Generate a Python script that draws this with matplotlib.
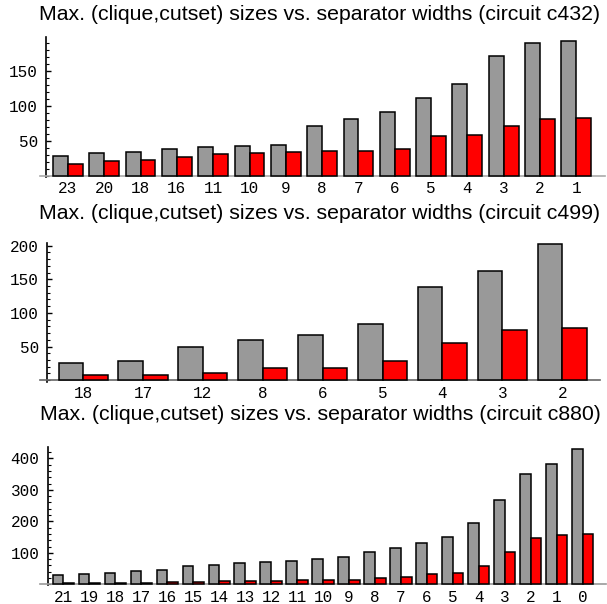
import matplotlib
matplotlib.use("Agg")
import matplotlib.pyplot as plt
from matplotlib.ticker import MultipleLocator
import numpy as np

# circuit c432
widths_c432 = [23, 20, 18, 16, 11, 10, 9, 8, 7, 6, 5, 4, 3, 2, 1]
clique_c432 = [28, 32, 34, 38, 41, 43, 44, 71, 81, 91, 111, 132, 172, 191, 193]
cutset_c432 = [17, 21, 22, 27, 31, 32, 34, 35, 36, 38, 57, 59, 71, 81, 83]

# circuit c499
widths_c499 = [18, 17, 12, 8, 6, 5, 4, 3, 2]
clique_c499 = [25, 29, 49, 59, 67, 83, 139, 163, 203]
cutset_c499 = [8, 8, 11, 18, 18, 28, 55, 74, 77]

# circuit c880
widths_c880 = [21, 19, 18, 17, 16, 15, 14, 13, 12, 11, 10, 9, 8, 7, 6, 5, 4, 3, 2, 1, 0]
clique_c880 = [29, 33, 35, 43, 45, 58, 62, 67, 71, 75, 82, 88, 102, 117, 130, 151, 196, 268, 350, 381, 429]
cutset_c880 = [4, 4, 4, 4, 6, 9, 10, 11, 11, 13, 13, 13, 20, 24, 32, 36, 59, 103, 147, 157, 159]

circuits = ["c432", "c499", "c880"]

W, H = 607, 604
fig = plt.figure(figsize=(W / 100, H / 100), dpi=100)

# pixel boxes: left, right, top, bottom, ylim, xlim, major, minor, title y
panels = [
    (40, 605, 37, 177, (-2, 199), (-0.77, 14.79), 50, 10, 15, "#aaaaaa", 0.41),
    (40, 600, 243, 381.5, (-2, 204), (-0.72, 8.63), 50, 10, 214, "#666666", 0.41),
    (40, 606, 446.7, 585, (-2, 437), (-0.9, 20.9), 100, 20, 414, "#999999", 0.41),
]
data = [
    (widths_c432, clique_c432, cutset_c432),
    (widths_c499, clique_c499, cutset_c499),
    (widths_c880, clique_c880, cutset_c880),
]

mono = "Liberation Mono"
sans = "Liberation Sans"

for (l, r, t, b, ylim, xlim, major, minor, ty, basecol, bw), (w, cl, cu), name in zip(panels, data, circuits):
    ax = fig.add_axes([l / W, 1 - b / H, (r - l) / W, (b - t) / H])
    x = np.arange(len(w))
    ax.bar(x - bw / 2, cl, width=bw, color="#999999", edgecolor="black", linewidth=1.1, zorder=3)
    ax.bar(x + bw / 2, cu, width=bw, color="#ff0000", edgecolor="black", linewidth=1.1, zorder=3)
    ax.set_xlim(*xlim)
    ax.set_ylim(*ylim)
    for s in ["top", "right"]:
        ax.spines[s].set_visible(False)
    ax.spines["left"].set_position(("data", -0.6))
    ax.spines["left"].set_linewidth(1.2)
    ax.spines["bottom"].set_position(("data", 0))
    ax.spines["bottom"].set_color(basecol)
    ax.spines["bottom"].set_linewidth(1.2)
    ax.set_xticks(x)
    ax.set_xticklabels([str(v) for v in w], fontfamily=mono, fontsize=11.5)
    ax.tick_params(axis="x", length=0, pad=4)
    ax.yaxis.set_major_locator(MultipleLocator(major))
    ax.yaxis.set_minor_locator(MultipleLocator(minor))
    ax.set_yticks([v for v in ax.get_yticks() if 0 < v <= ylim[1]])
    ax.set_ylim(*ylim)
    ax.tick_params(axis="y", which="major", direction="in", length=3.5, width=1, pad=6)
    ax.tick_params(axis="y", which="minor", direction="in", length=1.8, width=0.8)
    for lab in ax.get_yticklabels():
        lab.set_fontfamily(mono)
        lab.set_fontsize(11.5)
    ax.patch.set_alpha(0)
    fig.text(320 / W, 1 - ty / H,
             "Max. (clique,cutset) sizes vs. separator widths (circuit %s)" % name,
             ha="center", va="center", fontfamily=sans, fontsize=15.3)

fig.savefig("out.png", dpi=100)
